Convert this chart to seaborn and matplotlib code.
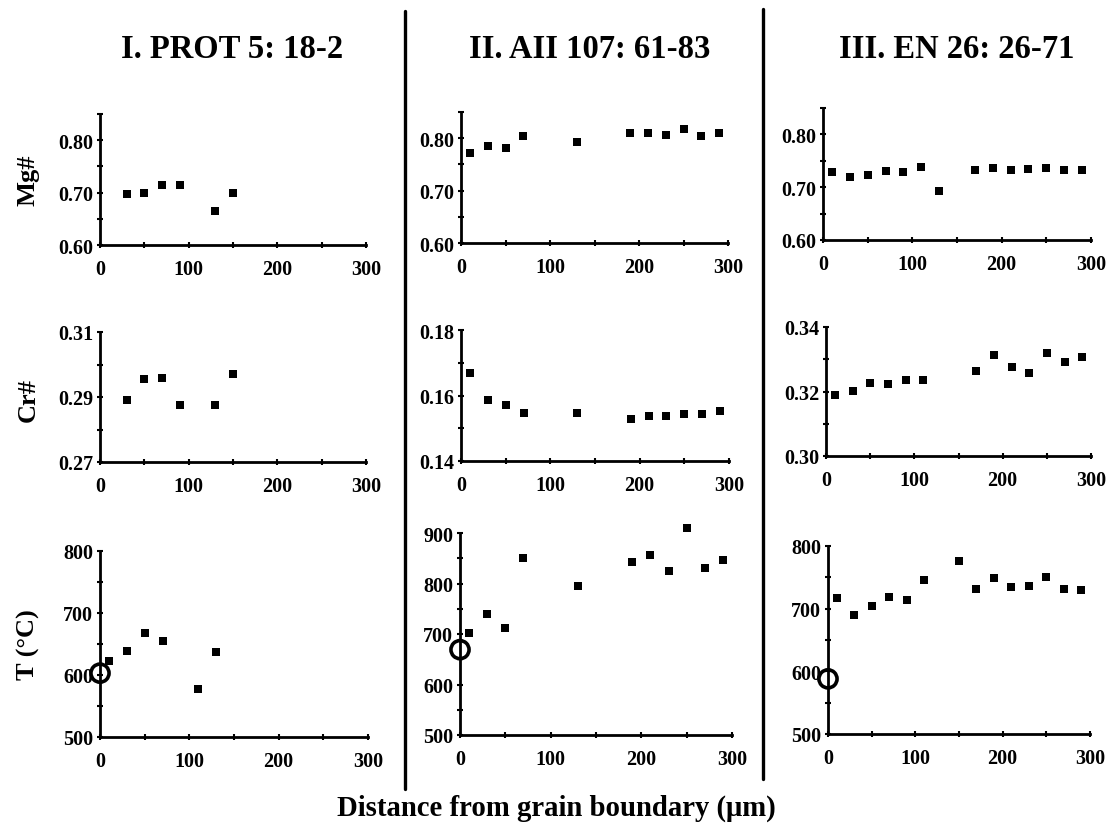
import numpy as np
import pandas as pd
import matplotlib
matplotlib.use("Agg")
import matplotlib.pyplot as plt
from matplotlib.lines import Line2D
import seaborn as sns

sns.set_theme(style="white")
plt.rcParams['font.family'] = ['Liberation Serif', 'DejaVu Serif']
plt.rcParams['font.weight'] = 'bold'
plt.rcParams['text.color'] = 'black'
plt.rcParams['axes.labelcolor'] = 'black'
plt.rcParams['xtick.color'] = 'black'
plt.rcParams['ytick.color'] = 'black'

# ---------------- data ----------------
titles = ["I. PROT 5: 18-2", "II. AII 107: 61-83", "III. EN 26: 26-71"]
row_labels = ["Mg#", "Cr#", "T (°C)"]
x_label = "Distance from grain boundary (μm)"

# Sample I
x1 = [30, 50, 70, 90, 130, 150]
mg1 = [0.697, 0.700, 0.715, 0.714, 0.664, 0.699]
cr1 = [0.2890, 0.2956, 0.2958, 0.2874, 0.2874, 0.2971]
xt1 = [10, 30, 50, 70, 110, 130]
t1 = [622, 639, 668, 655, 578, 637]
tb1 = 603  # open circle at grain boundary

# Sample II
x2 = [10, 30, 50, 70, 130, 190, 210, 230, 250, 270, 290]
mg2 = [0.772, 0.785, 0.782, 0.805, 0.793, 0.809, 0.809, 0.806, 0.817, 0.805, 0.809]
cr2 = [0.1670, 0.1585, 0.1570, 0.1547, 0.1547, 0.1527, 0.1537, 0.1537, 0.1542, 0.1543, 0.1554]
t2 = [702, 739, 711, 851, 795, 843, 857, 825, 909, 830, 846]
tb2 = 669

# Sample III
x3 = [10, 30, 50, 70, 90, 110, 130, 170, 190, 210, 230, 250, 270, 290]
mg3 = [0.728, 0.720, 0.724, 0.730, 0.728, 0.739, 0.692, 0.732, 0.736, 0.732, 0.734, 0.737, 0.733, 0.732]
x3c = [10, 30, 50, 70, 90, 110, 170, 190, 210, 230, 250, 270, 290]
cr3 = [0.3188, 0.3203, 0.3226, 0.3222, 0.3237, 0.3235, 0.3264, 0.3312, 0.3277, 0.3258, 0.3318, 0.3292, 0.3308]
xt3 = [10, 30, 50, 70, 90, 110, 150, 170, 190, 210, 230, 250, 270, 290]
t3 = [717, 690, 704, 718, 714, 746, 776, 732, 749, 734, 736, 751, 731, 730]
tb3 = 588

# y axis settings per panel: (min, max, major step, minor step, fmt)
ycfg = {
    (0, 0): (0.60, 0.85, 0.10, 0.05, "{:.2f}"),
    (0, 1): (0.60, 0.85, 0.10, 0.05, "{:.2f}"),
    (0, 2): (0.60, 0.85, 0.10, 0.05, "{:.2f}"),
    (1, 0): (0.27, 0.31, 0.02, 0.01, "{:.2f}"),
    (1, 1): (0.14, 0.18, 0.02, 0.01, "{:.2f}"),
    (1, 2): (0.30, 0.34, 0.02, 0.01, "{:.2f}"),
    (2, 0): (500, 800, 100, 50, "{:.0f}"),
    (2, 1): (500, 900, 100, 50, "{:.0f}"),
    (2, 2): (500, 800, 100, 50, "{:.0f}"),
}

panels = {
    (0, 0): (x1, mg1), (0, 1): (x2, mg2), (0, 2): (x3, mg3),
    (1, 0): (x1, cr1), (1, 1): (x2, cr2), (1, 2): (x3c, cr3),
    (2, 0): (xt1, t1), (2, 1): (x2, t2), (2, 2): (xt3, t3),
}
boundary_T = {0: tb1, 1: tb2, 2: tb3}

# axes boxes in pixels (left, right, top, bottom)
W, H = 1109, 828
boxes = {
    (0, 0): (100, 366, 115, 246), (0, 1): (461, 728, 113, 244), (0, 2): (823, 1091, 109, 241),
    (1, 0): (100, 366, 333, 463), (1, 1): (461, 729, 331, 462), (1, 2): (826, 1091, 328, 457),
    (2, 0): (100, 368, 552, 738), (2, 1): (460, 732, 534, 736), (2, 2): (828, 1090, 547, 735),
}

fig = plt.figure(figsize=(W / 100, H / 100), dpi=100)
fig.patch.set_facecolor("white")

tick_font = dict(fontsize=14.5, fontweight="bold", color="black")

for (r, c), (l, rr, t, b) in boxes.items():
    ax = fig.add_axes([l / W, 1 - b / H, (rr - l) / W, (b - t) / H])
    ax.set_facecolor("white")
    xs, ys = panels[(r, c)]
    df = pd.DataFrame({"x": xs, "y": ys})
    sns.scatterplot(data=df, x="x", y="y", ax=ax, marker="s", color="black",
                    s=34, edgecolor="black", linewidth=0, clip_on=False, zorder=5)
    if r == 2:
        dfb = pd.DataFrame({"x": [0], "y": [boundary_T[c]]})
        sns.scatterplot(data=dfb, x="x", y="y", ax=ax, marker="o", s=170,
                        facecolor="none", edgecolor="black", linewidth=2.6,
                        clip_on=False, zorder=6)
    ymin, ymax, maj, mnr, fmt = ycfg[(r, c)]
    ax.set_xlim(0, 300)
    ax.set_ylim(ymin, ymax)
    yt = np.arange(ymin, ymax + 1e-9, maj)
    ax.set_yticks(yt)
    ax.set_yticklabels([fmt.format(v) for v in yt], **tick_font)
    ax.set_yticks(np.arange(ymin, ymax + 1e-9, mnr), minor=True)
    ax.set_xticks([0, 100, 200, 300])
    ax.set_xticklabels(["0", "100", "200", "300"], **tick_font)
    ax.set_xticks([50, 150, 250], minor=True)
    for s in ["top", "right"]:
        ax.spines[s].set_visible(False)
    for s in ["left", "bottom"]:
        ax.spines[s].set_visible(True)
        ax.spines[s].set_color("black")
        ax.spines[s].set_linewidth(2.0)
    ax.tick_params(which="both", direction="inout", length=4, width=1.5,
                   color="black", left=True, bottom=True)
    ax.tick_params(axis="x", pad=8)
    ax.tick_params(axis="y", pad=3)
    ax.set_xlabel("")
    ax.set_ylabel("")
    ax.grid(False)

# titles
title_x = [232, 590, 957]
for tx, tt in zip(title_x, titles):
    fig.text(tx / W, 1 - 50 / H, tt, ha="center", va="center",
             fontsize=23.5, fontweight="bold", color="black")

# row labels
row_y = [180, 400, 645]
for ry, rl in zip(row_y, row_labels):
    fig.text(28 / W, 1 - ry / H, rl, ha="center", va="center", rotation=90,
             fontsize=19, fontweight="bold", color="black")

# common x label
fig.text(556 / W, 1 - 808 / H, x_label, ha="center", va="center",
         fontsize=20.7, fontweight="bold", color="black")

# separator lines
fig.add_artist(Line2D([405 / W, 405 / W], [1 - 12 / H, 1 - 790 / H],
                      color="black", linewidth=2.4, transform=fig.transFigure))
fig.add_artist(Line2D([763 / W, 763 / W], [1 - 10 / H, 1 - 780 / H],
                      color="black", linewidth=2.4, transform=fig.transFigure))

fig.savefig("out.png", dpi=100, facecolor="white")
